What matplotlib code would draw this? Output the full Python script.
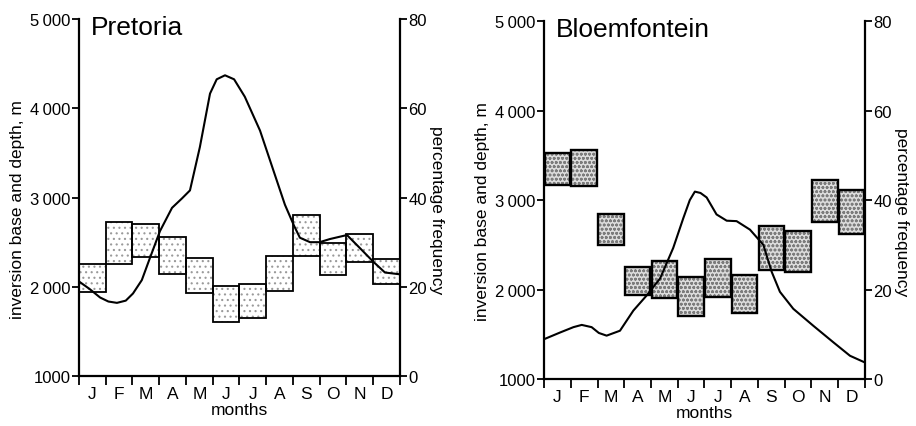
import numpy as np
import matplotlib
matplotlib.use('Agg')
import matplotlib.pyplot as plt

plt.rcParams['font.family'] = ['Liberation Sans', 'DejaVu Sans']
plt.rcParams['hatch.linewidth'] = 0.8

months = ['J', 'F', 'M', 'A', 'M', 'J', 'J', 'A', 'S', 'O', 'N', 'D']

# inversion base (bottom) and top (base + depth), m
pta_base = [1945, 2250, 2330, 2140, 1930, 1600, 1650, 1950, 2350, 2130, 2275, 2030]
pta_top = [2255, 2730, 2705, 2560, 2320, 2005, 2030, 2340, 2805, 2490, 2590, 2310]
blm_base = [3170, 3155, 2500, 1935, 1910, 1710, 1915, 1740, 2220, 2195, 2760, 2620]
blm_top = [3530, 3555, 2850, 2250, 2315, 2145, 2345, 2165, 2710, 2655, 3230, 3115]

# percentage frequency of inversions, month position (0 = start of Jan)
pta_freq_x = [0, 0.4, 0.79, 1.1, 1.42, 1.75, 2.02, 2.35, 2.65, 3.03, 3.48, 3.85, 4.15,
              4.52, 4.9, 5.15, 5.46, 5.8, 6.2, 6.77, 7.33, 7.7, 8.04, 8.26, 8.64,
              9.0, 9.38, 10.02, 10.5, 10.99, 11.44, 12]
pta_freq_y = [21.2, 19.5, 17.6, 16.7, 16.4, 16.9, 18.5, 21.5, 26.4, 32.5, 37.7, 39.8, 41.6,
              51.3, 63.3, 66.5, 67.4, 66.5, 62.6, 55.0, 45.0, 38.4, 33.7, 31.0, 30.0,
              30.0, 30.7, 31.6, 28.7, 25.7, 23.2, 22.8]
blm_freq_x = [0, 0.6, 1.1, 1.41, 1.78, 2.05, 2.34, 2.84, 3.34, 3.84, 4.34, 4.83, 5.21,
              5.45, 5.64, 5.85, 6.08, 6.45, 6.83, 7.2, 7.7, 8.2, 8.51, 8.82, 9.32,
              10.07, 10.82, 11.44, 11.96]
blm_freq_y = [8.9, 10.4, 11.6, 12.1, 11.6, 10.3, 9.7, 10.8, 15.3, 18.7, 22.5, 29.3, 36.0,
              40.0, 41.9, 41.6, 40.6, 36.8, 35.4, 35.3, 33.4, 30.0, 24.0, 19.5, 15.7,
              11.9, 8.2, 5.2, 3.8]

left_ticks = [1000, 2000, 3000, 4000, 5000]
left_ticklabels = ['1000', '2\u2009000', '3\u2009000', '4\u2009000', '5\u2009000']
right_ticks = [0, 20, 40, 60, 80]

fig = plt.figure(figsize=(9.16, 4.27), dpi=100)

panels = [
    ('Pretoria', pta_base, pta_top, pta_freq_x, pta_freq_y,
     [0.0862, 0.117, 0.3504, 0.836], '...', '#9a9a9a', 'white', 1.3, 1.0),
    ('Bloemfontein', blm_base, blm_top, blm_freq_x, blm_freq_y,
     [0.5939, 0.110, 0.3504, 0.838], 'oooo', '#7c7c7c', '#dcdcdc', 1.7, 0.96),
]

for (name, base, top, fx, fy, rect, hatch, hcol, fcol, blw, bw) in panels:
    ax = fig.add_axes(rect)
    xpos = np.arange(12) + 0.5
    depth = np.array(top) - np.array(base)

    # stippled fill, then the box outline on top
    ax.bar(xpos, depth, bottom=base, width=bw, facecolor=fcol, edgecolor=hcol,
           hatch=hatch, linewidth=0, zorder=2)
    ax.bar(xpos, depth, bottom=base, width=bw, fill=False, edgecolor='black',
           linewidth=blw, zorder=3)

    ax.set_xlim(0, 12)
    ax.set_ylim(1000, 5000)
    ax.set_yticks(left_ticks)
    ax.set_yticklabels(left_ticklabels)
    ax.set_xticks(np.arange(13))
    ax.set_xticklabels([])
    ax.set_xticks(xpos, minor=True)
    ax.set_xticklabels(months, minor=True)
    ax.tick_params(axis='x', which='major', direction='out', length=6.5, width=1.3)
    ax.tick_params(axis='x', which='minor', length=0, pad=7, labelsize=12.5)
    ax.tick_params(axis='y', direction='out', length=5, width=1.3, pad=1, labelsize=12)
    ax.spines['top'].set_visible(False)
    ax.spines['right'].set_visible(False)
    for s in ('left', 'bottom'):
        ax.spines[s].set_linewidth(1.6)

    ax.set_xlabel('months', fontsize=12.5, labelpad=1)
    ax.set_ylabel('inversion base and depth, m', fontsize=12.5)
    ax.yaxis.set_label_coords(-0.168, 0.47)

    ax.text(0.037, 0.958, name, transform=ax.transAxes, fontsize=19, va='baseline')

    ax2 = ax.twinx()
    ax2.plot(fx, fy, color='black', linewidth=1.5, zorder=4)
    ax2.set_ylim(0, 80)
    ax2.set_yticks(right_ticks)
    ax2.tick_params(axis='y', direction='out', length=5, width=1.3, pad=1, labelsize=12)
    ax2.spines['top'].set_visible(False)
    ax2.spines['left'].set_visible(False)
    ax2.spines['bottom'].set_visible(False)
    ax2.spines['right'].set_linewidth(1.6)
    ax2.set_ylabel('percentage frequency', fontsize=12.5, rotation=270, va='bottom')
    ax2.yaxis.set_label_coords(1.09, 0.468)

fig.savefig('out.png', dpi=100)
